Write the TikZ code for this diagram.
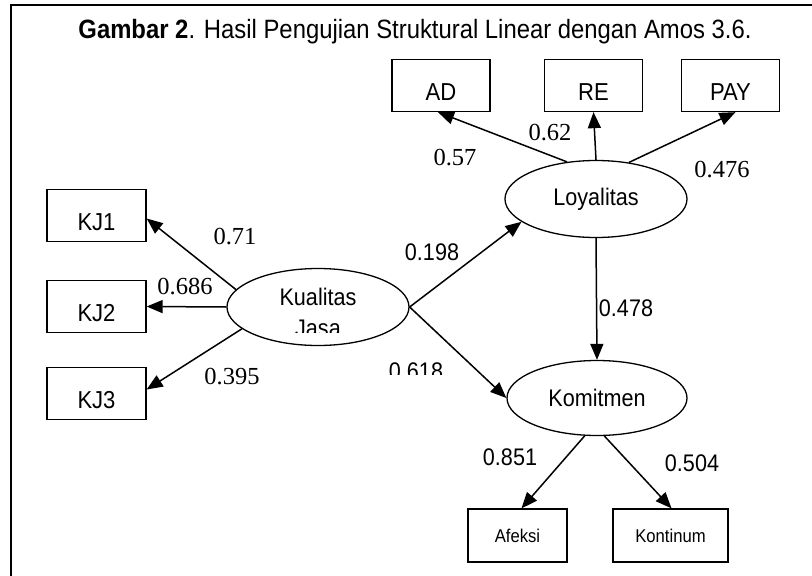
\documentclass[tikz,border=0pt]{standalone}
\usepackage{fontspec}
\setmainfont{Liberation Sans}[FakeStretch=0.9]
\newfontfamily\serifnum{Liberation Serif}
\usetikzlibrary{shapes.geometric,arrows.meta}
\tikzset{
  box/.style={draw, line width=1.3pt, minimum width=98pt, minimum height=52pt, inner sep=0pt, text height=29pt, text depth=0pt, font=\fontsize{24.5}{26}\selectfont},
  smallbox/.style={draw, line width=1.3pt, minimum height=53pt, inner sep=0pt, font=\fontsize{18.5}{21}\selectfont},
  lat/.style={draw, ellipse, line width=1.3pt, minimum width=182pt, minimum height=77pt, inner sep=0pt, font=\fontsize{24}{26}\selectfont},
  arr/.style={-{Triangle[length=16pt,width=13pt]}, line width=1.5pt},
  snum/.style={font=\serifnum\fontsize{24.5}{26}\selectfont, inner sep=0pt},
  nnum/.style={font=\fontsize{24}{26}\selectfont, inner sep=0pt},
  txt/.style={font=\fontsize{24}{26}\selectfont, inner sep=0pt}
}
\begin{document}
\begin{tikzpicture}[x=1pt,y=-1pt]
\useasboundingbox (0,0) rectangle (812,576);
\draw[line width=2pt] (11,576) -- (11,5) -- (812,5);
\node[anchor=base, inner sep=0pt, font=\fontsize{26.5}{28}\selectfont] (title) at (415,38) {\textbf{Gambar 2}. Hasil Pengujian Struktural Linear dengan Amos 3.6.};

% indicators
\node[box] (ad) at (441,85.5) {AD};
\node[box] (re) at (593.5,85.5) {RE};
\node[box] (pay) at (730.5,85.5) {PAY};
\node[box, minimum width=99pt] (kj1) at (96.5,215.5) {KJ1};
\node[box, minimum width=99pt] (kj2) at (96.5,306.5) {KJ2};
\node[box, minimum width=99pt] (kj3) at (96.5,393.5) {KJ3};
\node[smallbox, minimum width=99pt] (af) at (517.5,535.5) {Afeksi};
\node[smallbox, minimum width=115pt] (kon) at (670.5,535.5) {Kontinum};

% latent variables
\node[lat] (loy) at (596,199) {Loyalitas};
\node[lat] (kq) at (318,307) {};
\node[lat, minimum width=180pt, minimum height=75pt] (kom) at (597,398) {Komitmen};
\node[txt, anchor=base] (kqa) at (318,305) {Kualitas};
\begin{scope}
\clip (220,300) rectangle (420,332);
\node[txt, anchor=base] (kqb) at (318,336) {Jasa};
\end{scope}

% arrows
\draw[arr] (loy.128) -- ([xshift=-3pt]ad.south);
\draw[arr] (loy.north) -- (re.south);
\draw[arr] (loy.48) -- ([xshift=5pt]pay.south);
\draw[arr] (kq.168) -- ([yshift=-3pt]kj1.east);
\draw[arr] (kq.west) -- (kj2.east);
\draw[arr] (kq.196) -- ([yshift=4pt]kj3.east);
\draw[arr] (kq.east) -- (loy.197);
\draw[arr] (kq.east) -- (kom.west);
\draw[arr] (loy.south) -- (kom.north);
\draw[arr] (kom.252) -- ([xshift=4pt]af.north);
\draw[arr] (kom.281) -- ([xshift=1pt]kon.north);

% coefficients
\node[snum] (l62) at (550,133) {0.62};
\node[snum] (l57) at (455,158) {0.57};
\node[snum] (l476) at (722,170) {0.476};
\node[snum] (l71) at (235,237) {0.71};
\node[snum] (l686) at (185,287) {0.686};
\node[snum] (l395) at (232,377) {0.395};
\node[nnum] (l198) at (432,252) {0.198};
\node[nnum] (l478) at (626,308) {0.478};
\begin{scope}
\clip (380,350) rectangle (460,374);
\node[nnum, anchor=base] (l618) at (416,379) {0.618};
\end{scope}
\node[nnum] (l851) at (510,457) {0.851};
\node[nnum] (l504) at (692,463) {0.504};
\end{tikzpicture}
\end{document}
